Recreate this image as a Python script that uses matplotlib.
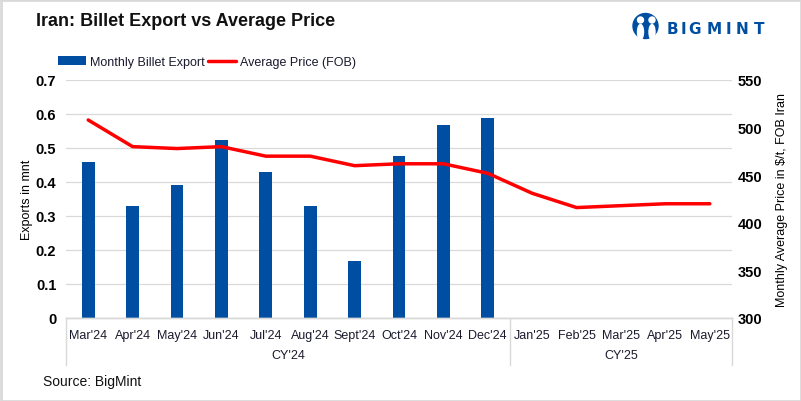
import matplotlib
matplotlib.use('Agg')
import matplotlib.pyplot as plt
from matplotlib.patches import Circle, Ellipse, Rectangle

plt.rcParams['font.family'] = ['Liberation Sans', 'DejaVu Sans']

months = ["Mar'24", "Apr'24", "May'24", "Jun'24", "Jul'24", "Aug'24", "Sept'24", "Oct'24",
          "Nov'24", "Dec'24", "Jan'25", "Feb'25", "Mar'25", "Apr'25", "May'25"]
exports = [0.46, 0.33, 0.39, 0.525, 0.43, 0.33, 0.168, 0.477, 0.568, 0.588]
price = [508, 480, 478, 480, 470, 470, 460, 462, 462, 452, 431, 416, 418, 420, 420]
left_ticks = [0, 0.1, 0.2, 0.3, 0.4, 0.5, 0.6, 0.7]
left_labels = ['0', '0.1', '0.2', '0.3', '0.4', '0.5', '0.6', '0.7']
right_ticks = [300, 350, 400, 450, 500, 550]
groups = ["CY'24", "CY'25"]
group_pos = [4.5, 12]
group_edges = [-0.5, 9.5, 14.5]

BLUE = '#004ea2'
GRAY = '#d9d9d9'
W, H = 801, 402

fig = plt.figure(figsize=(W / 100, H / 100), dpi=100)
ax = fig.add_axes([66 / W, 1 - 319 / H, 666 / W, 238 / H])
ax2 = ax.twinx()

bars = ax.bar(range(len(exports)), exports, width=0.29, color=BLUE, label='Monthly Billet Export')
line, = ax2.plot(range(len(price)), price, color='#ff0000', lw=2.5, label='Average Price (FOB)',
                 solid_capstyle='round')

ax.set_xlim(-0.5, 14.5)
ax.set_ylim(0, 0.7)
ax2.set_ylim(300, 550)
ax.set_yticks(left_ticks, left_labels)
ax2.set_yticks(right_ticks)
ax.set_xticks(range(len(months)), months)
ax.grid(axis='y', color=GRAY, lw=0.9)
ax.set_axisbelow(True)

for a in (ax, ax2):
    for s in ('top', 'left', 'right'):
        a.spines[s].set_visible(False)
    a.spines['bottom'].set_color(GRAY)
    a.spines['bottom'].set_linewidth(1.0)

ax.tick_params(axis='x', length=0, pad=8, labelsize=9, labelcolor='#1a1a2e')
ax.tick_params(axis='y', length=0, pad=7, labelsize=10.5)
ax2.tick_params(axis='y', length=0, pad=4, labelsize=10.5)
for t in ax.get_yticklabels() + ax2.get_yticklabels():
    t.set_fontweight('bold')

ax.set_ylabel('Exports in mnt', fontsize=9, labelpad=2)
ax2.set_ylabel('Monthly Average Price in $/t, FOB Iran', fontsize=9, labelpad=10)

# two level category axis
trans = ax.get_xaxis_transform()
for x in group_edges:
    ax.plot([x, x], [0, -47 / 238], transform=trans, color=GRAY, lw=1.0, clip_on=False)
for x, g in zip(group_pos, groups):
    ax.text(x, -37 / 238, g, transform=trans, ha='center', va='center', fontsize=9, color='#1a1a2e')

fig.legend([bars, line], ['Monthly Billet Export', 'Average Price (FOB)'], loc='center left',
           bbox_to_anchor=(58 / W, 1 - 63 / H), ncol=2, frameon=False, fontsize=9,
           handlelength=2.25, handletextpad=0.3, columnspacing=0.25, borderpad=0, borderaxespad=0,
           labelcolor='#1a1a2e')

fig.text(36 / W, 1 - 21 / H, 'Iran: Billet Export vs Average Price', fontsize=13, fontweight='bold',
         va='center', color='#111111')
fig.text(43 / W, 1 - 382 / H, 'Source: BigMint', fontsize=10, va='center', color='#111111')

# logo
logo = fig.add_axes([0, 0, 1, 1], facecolor='none')
logo.set_xlim(0, W)
logo.set_ylim(H, 0)
logo.axis('off')
logo.add_patch(Circle((645.5, 27), 12.5, color=BLUE))
logo.add_patch(Circle((640.5, 21), 3, color='white'))
logo.add_patch(Circle((652, 21), 3, color='white'))
logo.add_patch(Ellipse((640.5, 33), 6, 15, color='white'))
logo.add_patch(Ellipse((652, 33), 6, 15, color='white'))
# letters are spaced wide in the logo
for ch, x in zip('BIGMINT', [667, 681, 688, 707, 726, 736, 754]):
    logo.text(x, 29, ch, fontsize=11, fontweight='bold', color=BLUE, va='center', ha='left',
              family='DejaVu Sans')

# outer border
logo.add_patch(Rectangle((0.5, 0.5), W - 1, H - 1, fill=False, ec=GRAY, lw=2))

fig.savefig('out.png', dpi=100, facecolor='white')
